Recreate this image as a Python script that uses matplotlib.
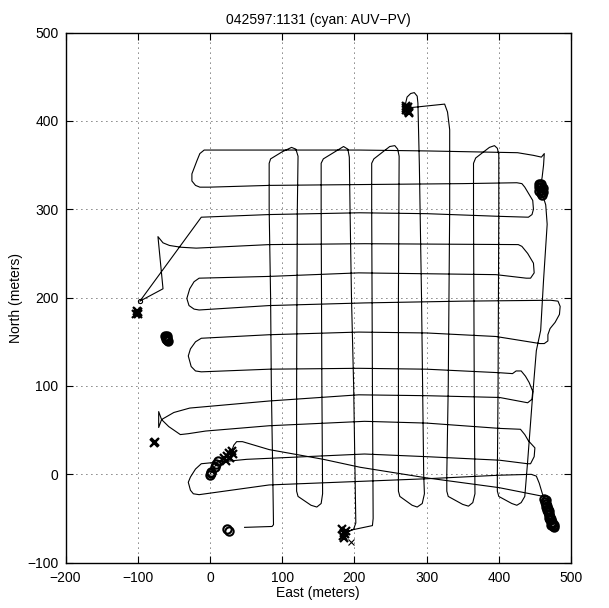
import matplotlib
matplotlib.use("Agg")
import matplotlib.pyplot as plt
import numpy as np

plt.rcParams["font.family"] = ["Liberation Sans", "DejaVu Sans"]

# main survey track (east, north) in meters
track_e = [
    48, 86, 88, 87, 85, 84, 82, 82,
    84, 100, 113, 119, 122,
    121, 120, 120, 120,
    122, 140, 148, 154, 156,
    155, 154, 154,
    157, 177, 185, 191, 193,
    194, 196, 199, 201, 202, 199, 194, 188,
    196, 225, 226, 225, 224, 224,
    227, 249, 256, 260, 262,
    261, 261, 261,
    263, 280, 287, 294, 297,
    296, 293, 290, 288, 287, 283, 278, 273, 271, 273,
    278, 325, 329, 332, 332, 330, 328, 328,
    330, 350, 358, 364, 367,
    366, 365, 365,
    368, 387, 394, 398, 400,
    400, 399, 398, 398,
    400, 418, 425, 431, 436,
    440, 446, 452, 458, 462, 467, 465, 460,
    456, 458, 460, 462, 463,
    459, 448, 426, 300, 207, 82, -8,
    -14, -18, -25, -25, -20, -14, -1,
    82, 214, 350, 425, 432,
    436, 447, 448, 446, 441,
    400, 300, 207, 82, -12,
    -97,
    -65, -72, -65, -56, -40, -19,
    82, 214, 427, 432,
    440, 448, 449, 444, 438,
    396, 206, 82, -15,
    -22, -28, -32, -29, -22, -15,
    82, 214, 350, 472, 482, 485, 484, 478, 471, 468, 468, 463, 457,
    396, 300, 206, 82, -12,
    -20, -27, -30, -26, -20, -12,
    82, 206, 300, 401, 419, 424, 431,
    437, 442, 447, 446, 440,
    401, 300, 206, 82, -28, -50, -67,
    -71, -71, -67,
    -57, -41, -30, -6,
    82, 214, 300, 401, 430,
    436, 441, 450, 449, 444, 440,
    401, 300, 214, 51, -12,
    -20, -27, -30, -27, -23, -15,
    82, 208, 300, 400, 445, 452, 456, 460, 462,
]
track_n = [
    -60, -59, -57, 0, 100, 200, 300, 352,
    357, 365, 370, 368, 360,
    300, 100, 0, -19,
    -25, -35, -37, -33, -22,
    100, 300, 352,
    357, 367, 371, 368, 359,
    300, 200, 100, 0, -55, -62, -64, -66,
    -63, -58, -50, 100, 300, 352,
    357, 371, 372, 368, 360,
    200, 0, -19,
    -25, -35, -37, -33, -22,
    0, 200, 350, 420, 428, 432, 431, 427, 420, 414,
    415, 419, 410, 390, 300, 100, 0, -19,
    -25, -34, -36, -32, -22,
    100, 300, 352,
    358, 370, 372, 369, 362,
    300, 100, 0, -19,
    -25, -33, -35, -32, -25,
    15, 80, 140, 163, 220, 283, 305, 318,
    322, 328, 336, 350, 363,
    359, 361, 364, 366, 367, 367, 367,
    363, 355, 340, 332, 327, 325, 325,
    327, 328, 329, 330, 329,
    325, 310, 300, 294, 291,
    292, 295, 296, 294, 291,
    196,
    210, 269, 262, 259, 257, 256,
    260, 261, 260, 258,
    250, 239, 228, 222, 222,
    226, 228, 224, 222,
    218, 210, 199, 191, 187, 186,
    191, 194, 196, 197, 196, 190, 181, 172, 165, 158, 151, 148, 148,
    156, 160, 161, 158, 154,
    150, 142, 134, 122, 117, 116,
    119, 120, 119, 115, 114, 117, 117,
    111, 104, 94, 85, 81,
    87, 89, 90, 83, 75, 70, 62,
    71, 53, 62,
    54, 45, 46, 49,
    55, 60, 58, 52, 51,
    45, 38, 30, 20, 12, 12,
    16, 20, 23, 17, 12,
    6, -3, -9, -18, -22, -23,
    -12, -8, -5, -1, 0, -2, -10, -21, -26,
]

# transit leg from launch cluster to the south-east corner
transit_e = [0, 5, 10, 20, 29, 33, 37, 45, 82, 157, 208, 300, 400, 462]
transit_n = [0, 6, 14, 18, 24, 33, 37, 37, 28, 17, 8, -4, -15, -25]

# position fixes (x)
fix_x_e = [-102, -100, -101, -99, -77, -76,
           271, 272, 273, 274, 275, 272, 274, 276,
           183, 185, 187, 184, 188, 186,
           20, 24, 27, 30, 32, 28, 22]
fix_x_n = [182, 184, 185, 181, 36, 36.5,
           417, 415, 413, 411, 409, 412, 416, 410,
           -62, -66, -68, -70, -64, -72,
           18, 21, 24, 26, 23, 19, 15]
# position fixes (o)
fix_o_e = [-62, -61, -60, -59, -58, -61, -59,
           0, 1, 2, 7, 9, 11,
           24, 27,
           455, 457, 459, 460, 461, 460, 458, 456, 456, 458, 461,
           463, 464, 465, 466, 467, 468, 469, 470, 471, 473, 475, 474, 472,
           465, 466, 467, 468, 469, 470, 471, 472, 473, 476, 477]
fix_o_n = [157, 155, 154, 152, 151, 153, 156,
           -1, 1, 3, 8, 12, 15,
           -62, -64,
           329, 327, 325, 322, 319, 316, 318, 321, 325, 329, 324,
           -28, -31, -34, -37, -40, -43, -46, -49, -52, -55, -58, -56, -57,
           -29, -33, -36, -39, -42, -45, -48, -51, -54, -57, -60]
thin_x_e = [196]
thin_x_n = [-77]
dot_e = [-97]
dot_n = [196]

fig = plt.figure(figsize=(6.09, 6.08), dpi=100)
ax = fig.add_axes([0.1076, 0.0745, 0.830, 0.872])

ax.plot(track_e, track_n, color="k", lw=0.8)
ax.plot(transit_e, transit_n, color="k", lw=0.8)
ax.plot(fix_x_e, fix_x_n, "kx", ms=5.5, mew=1.6)
ax.plot(fix_o_e, fix_o_n, "ko", ms=6, mfc="none", mew=1.5)
ax.plot(thin_x_e, thin_x_n, "kx", ms=5, mew=0.8)
ax.plot(dot_e, dot_n, "ko", ms=3, mfc="none", mew=0.8)

ax.set_xlim(-200, 500)
ax.set_ylim(-100, 500)
ax.set_xticks(np.arange(-200, 501, 100))
ax.set_yticks(np.arange(-100, 501, 100))
ax.grid(True, color="k", linestyle=(0, (1, 5)), linewidth=0.6)
ax.tick_params(direction="in", top=True, right=True, length=5, labelsize=10)
ax.tick_params(axis="x", pad=6)
ax.tick_params(axis="y", pad=5)
for s in ax.spines.values():
    s.set_linewidth(1.0)

ax.set_xlabel("East (meters)", fontsize=10, labelpad=1)
ax.set_ylabel("North (meters)", fontsize=10, labelpad=3)
ax.set_title("042597:1131 (cyan: AUV\u2212PV)", fontsize=10, pad=6)

fig.savefig("out.png", dpi=100)
